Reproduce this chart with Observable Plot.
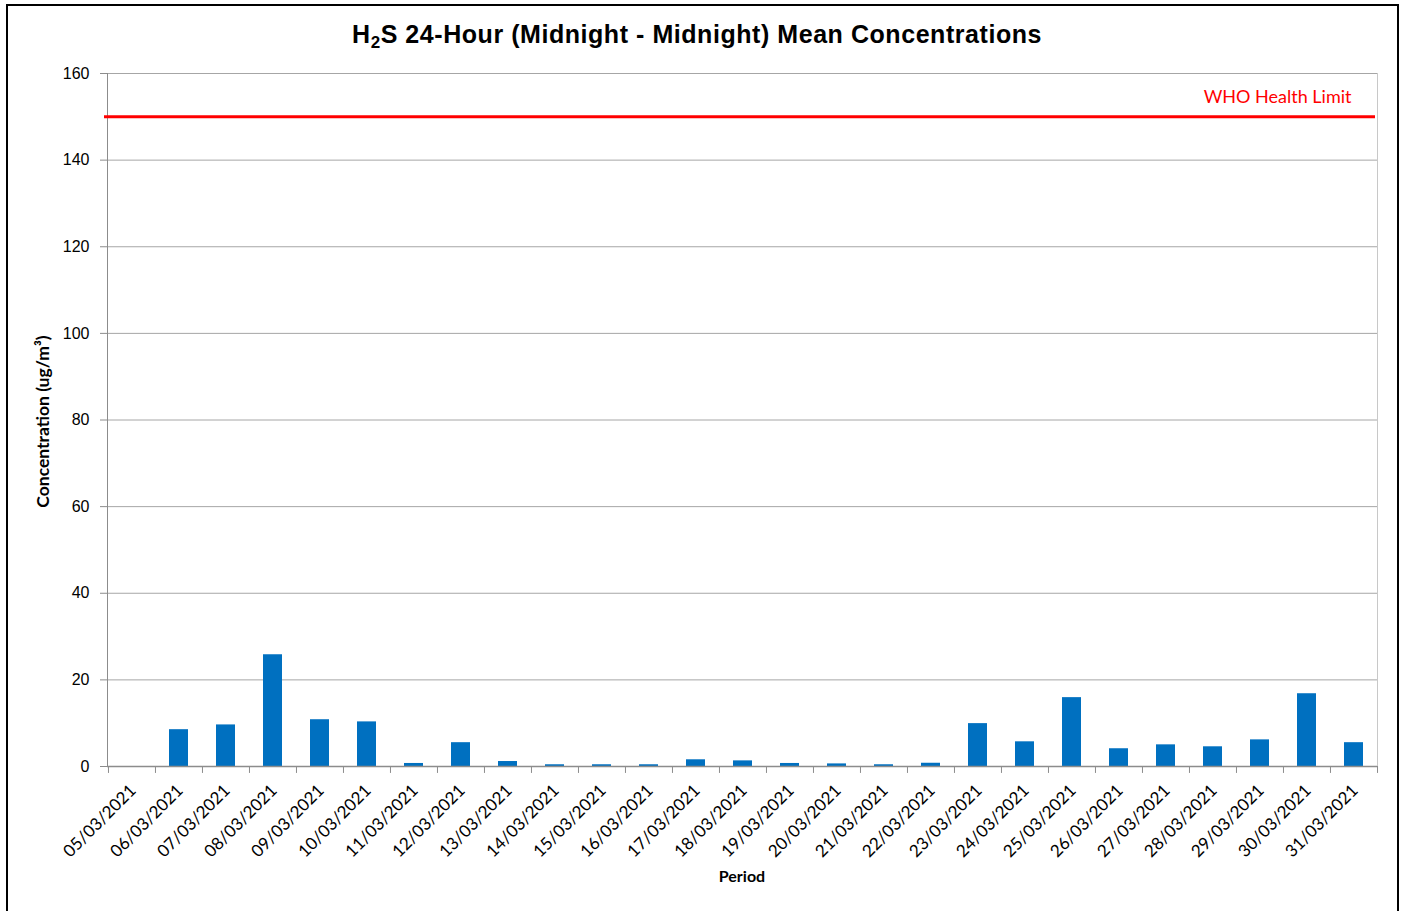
<!DOCTYPE html>
<html><head><meta charset="utf-8">
<script src="https://cdn.jsdelivr.net/npm/d3@7"></script>
<script src="https://cdn.jsdelivr.net/npm/@observablehq/plot@0.6"></script>
<style>html,body{margin:0;padding:0;background:#fff} svg{display:block}</style>
</head><body><div id="chart"></div>
<script>
const dates = ["05/03/2021","06/03/2021","07/03/2021","08/03/2021","09/03/2021","10/03/2021","11/03/2021","12/03/2021","13/03/2021","14/03/2021","15/03/2021","16/03/2021","17/03/2021","18/03/2021","19/03/2021","20/03/2021","21/03/2021","22/03/2021","23/03/2021","24/03/2021","25/03/2021","26/03/2021","27/03/2021","28/03/2021","29/03/2021","30/03/2021","31/03/2021"];
const values = [0, 8.5, 9.6, 25.8, 10.8, 10.3, 0.7, 5.5, 1.15, 0.4, 0.4, 0.4, 1.55, 1.3, 0.7, 0.6, 0.4, 0.75, 9.9, 5.7, 15.9, 4.1, 5.0, 4.55, 6.15, 16.8, 5.5];
const yTicks = [0, 20, 40, 60, 80, 100, 120, 140, 160];
const whoLimit = 150;
const whoLabel = "WHO Health Limit";
const titleMain = "H", titleSub = "2", titleRest = "S 24-Hour (Midnight - Midnight) Mean Concentrations";
const yTitle = "Concentration (ug/m³)";
const xTitle = "Period";

const data = dates.map((d, i) => ({date: d, value: values[i]}));
const W = 1404, H = 911, mL = 107, mR = 27, mT = 73, mB = 145;
const step = (W - mL - mR) / dates.length;
const gray = "#a6a6a6", axisGray = "#8c8c8c";
const calibri = "Lato, 'Open Sans', sans-serif";

const plot = Plot.plot({
  width: W, height: H,
  marginLeft: mL, marginRight: mR, marginTop: mT, marginBottom: mB,
  style: {fontFamily: "'Liberation Sans', Arial, sans-serif", fontSize: "16px", background: "#fff", color: "#000", overflow: "visible"},
  x: {domain: dates, paddingInner: 0.6, paddingOuter: 0.3, axis: null},
  y: {domain: [0, 160], axis: null},
  marks: [
    Plot.ruleY(yTicks.slice(1), {stroke: gray, strokeWidth: 1}),
    Plot.frame({anchor: "right", stroke: "#c8c8c8"}),
    Plot.barY(data, {x: "date", y: "value", fill: "#0070C0"}),
    Plot.ruleY([0], {stroke: axisGray, strokeWidth: 1.5}),
    Plot.frame({anchor: "left", stroke: axisGray}),
    Plot.ruleX(dates, {x: d => d, y1: 0, y2: -1.6, dx: -step / 2, stroke: axisGray}),
    Plot.ruleX([dates[dates.length - 1]], {x: d => d, y1: 0, y2: -1.6, dx: step / 2, stroke: axisGray}),
    Plot.axisY({ticks: yTicks, label: null, tickSize: 7, tickPadding: 11, stroke: axisGray, fill: "#000", fontSize: 16, tickFormat: d => String(d)}),
    Plot.text(dates, {x: d => d, y: 0, text: d => d, rotate: -45, textAnchor: "end", lineAnchor: "bottom", dx: 5, dy: 25, fontSize: 17, fontFamily: calibri, fill: "#000"}),
    Plot.ruleY([whoLimit], {stroke: "#ff0000", strokeWidth: 3, insetLeft: -3, insetRight: 2}),
    Plot.text([whoLimit], {y: d => d, frameAnchor: "right", text: () => whoLabel, textAnchor: "end", lineAnchor: "bottom", dx: -26, dy: -14, fill: "#ff0000", fontSize: 18, fontFamily: calibri})
  ]
});

const svg = d3.select(plot);
const t = svg.append("text").attr("x", 697).attr("y", 43).attr("text-anchor", "middle")
  .attr("font-family", "'Liberation Sans', Arial, sans-serif").attr("font-weight", "bold").attr("font-size", 25)
  .attr("letter-spacing", "0.55px").attr("fill", "#000");
t.append("tspan").text(titleMain);
t.append("tspan").attr("font-size", 17).attr("dy", 5).text(titleSub);
t.append("tspan").attr("dy", -5).text(titleRest);

svg.append("text").attr("transform", `translate(49,${(mT + H - mB) / 2 + 2}) rotate(-90)`).attr("text-anchor", "middle")
  .attr("font-family", calibri).attr("font-weight", "bold").attr("font-size", 17.5).attr("fill", "#000").text(yTitle);
svg.append("text").attr("x", (mL + W - mR) / 2).attr("y", 882).attr("text-anchor", "middle")
  .attr("font-family", calibri).attr("font-weight", "bold").attr("font-size", 16).attr("fill", "#000").text(xTitle);
svg.append("rect").attr("x", 7).attr("y", 5).attr("width", 1391).attr("height", 930)
  .attr("fill", "none").attr("stroke", "#000").attr("stroke-width", 2);

document.getElementById("chart").appendChild(plot);
</script>
</body></html>
